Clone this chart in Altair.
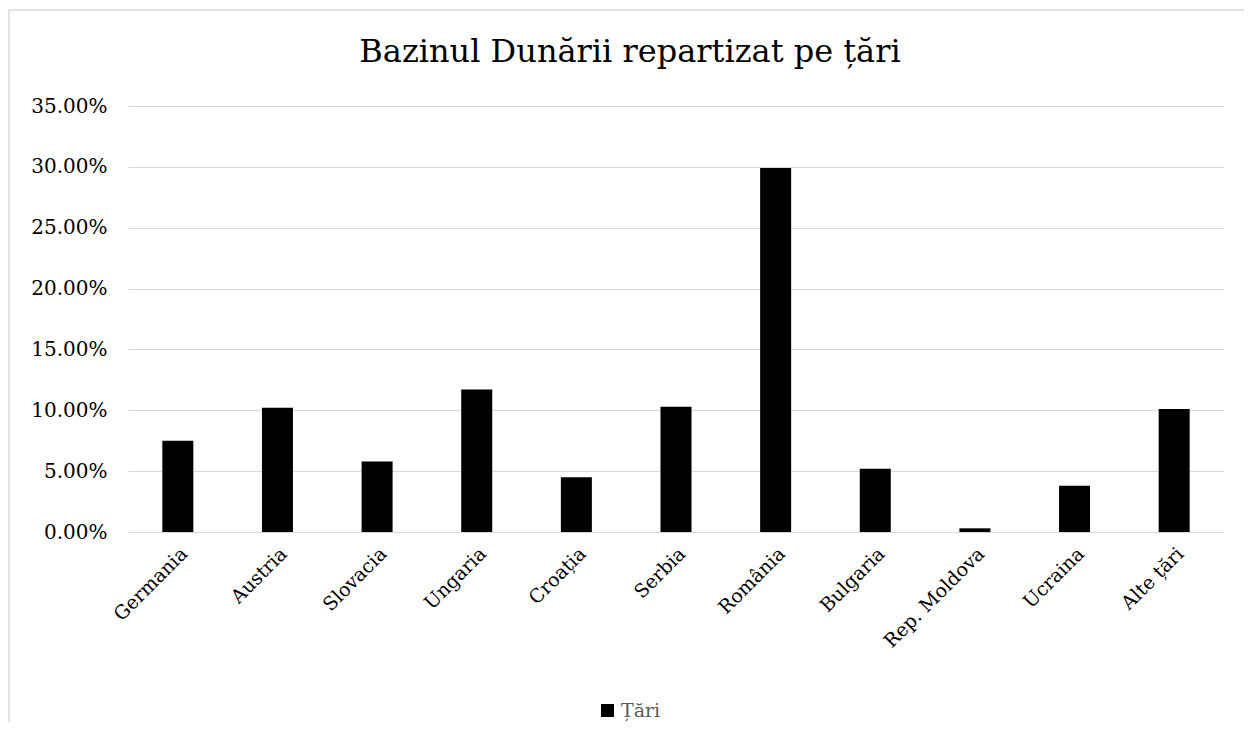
import altair as alt
import pandas as pd

title_text = "Bazinul Dunării repartizat pe țări"
countries = ["Germania", "Austria", "Slovacia", "Ungaria", "Croația", "Serbia",
             "România", "Bulgaria", "Rep. Moldova", "Ucraina", "Alte țări"]
shares = [0.075, 0.102, 0.058, 0.117, 0.045, 0.103, 0.299, 0.052, 0.003, 0.038, 0.101]
series_name = "Țări"
y_ticks = [0, 0.05, 0.10, 0.15, 0.20, 0.25, 0.30, 0.35]

df = pd.DataFrame({"tara": countries, "pondere": shares, "serie": series_name})

FONT = "DejaVu Serif"
W, H = 1096, 426

bars = alt.Chart(df).mark_bar(size=31).encode(
    x=alt.X("tara:N", sort=countries, title=None,
            scale=alt.Scale(paddingInner=0.69, paddingOuter=0.345),
            axis=alt.Axis(labelAngle=-45, labelFontSize=19, labelFont=FONT,
                          labelColor="#000000", ticks=False, domain=False,
                          labelPadding=12, grid=False)),
    y=alt.Y("pondere:Q", title=None,
            scale=alt.Scale(domain=[0, 0.35], nice=False),
            axis=alt.Axis(format=".2%", values=y_ticks, labelFontSize=20,
                          labelFont=FONT, labelColor="#000000", ticks=False,
                          domain=False, labelPadding=21, gridColor="#d9d9d9",
                          gridWidth=1.2)),
    color=alt.Color("serie:N", scale=alt.Scale(range=["#000000"]),
                    legend=alt.Legend(title=None, orient="none", legendX=470,
                                      legendY=595, symbolType="square",
                                      symbolSize=170, symbolStrokeWidth=0,
                                      labelFont=FONT, labelFontSize=19,
                                      labelColor="#595959", padding=0,
                                      labelOffset=4)),
)

frame = alt.Chart(alt.Data(values=[{}])).mark_rect(
    fill=None, stroke="#d9d9d9", strokeWidth=1.5
).encode(
    x=alt.value(-119), y=alt.value(-96), x2=alt.value(1200), y2=alt.value(700)
)

title = alt.Chart(alt.Data(values=[{"t": title_text}])).mark_text(
    font=FONT, fontSize=32, color="#000000", align="center",
    baseline="alphabetic"
).encode(text="t:N", x=alt.value(502), y=alt.value(-44))

chart = alt.layer(frame, bars, title).properties(
    width=W, height=H,
    autosize=alt.AutoSizeParams(type="none"),
    padding={"left": 120, "top": 98, "right": 20, "bottom": 190},
).configure_view(stroke=None)

chart.save("out.html", embed_options={"renderer": "svg", "actions": False})
